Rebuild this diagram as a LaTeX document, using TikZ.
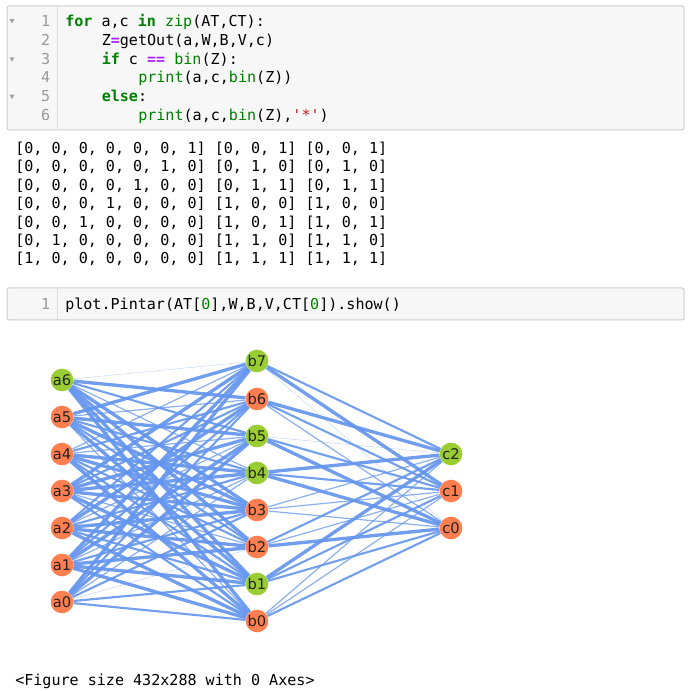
\documentclass[tikz,border=0pt]{standalone}
\usepackage{fontspec}
\newfontfamily\mono{DejaVu Sans Mono}
\newfontfamily\lab{DejaVu Sans}
\usetikzlibrary{backgrounds}
\definecolor{cellbg}{HTML}{F7F7F7}
\definecolor{cellborder}{HTML}{CFCFCF}
\definecolor{gutline}{HTML}{DDDDDD}
\definecolor{lnum}{HTML}{999999}
\definecolor{kwc}{HTML}{008000}
\definecolor{opc}{HTML}{AA22FF}
\definecolor{stc}{HTML}{BA2121}
\definecolor{edgec}{HTML}{6495ED}
\definecolor{nodeg}{HTML}{9ACD32}
\definecolor{nodeo}{HTML}{FF7F50}
\definecolor{labc}{HTML}{222222}
\newcommand{\kw}[1]{{\bfseries\color{kwc}#1}}
\newcommand{\bi}[1]{{\color{kwc}#1}}
\newcommand{\opr}[1]{{\bfseries\color{opc}#1}}
\newcommand{\str}[1]{{\color{stc}#1}}
\tikzset{
  cellbox/.style={fill=cellbg, draw=cellborder, line width=0.75pt, rounded corners=1.5pt},
  gut/.style={draw=gutline, line width=0.75pt},
  codetxt/.style={anchor=base west, inner sep=0pt, font=\mono\fontsize{11.3}{14}\selectfont, text=black},
  lnumtxt/.style={anchor=base east, inner sep=0pt, font=\mono\fontsize{11.3}{14}\selectfont, text=lnum},
  fold/.style={fill=lnum!90},
  gn/.style={circle, fill=nodeg, minimum size=17pt, inner sep=0pt, font=\lab\fontsize{11}{12}\selectfont, text=labc},
  on/.style={circle, fill=nodeo, minimum size=17pt, inner sep=0pt, font=\lab\fontsize{11}{12}\selectfont, text=labc},
  e1/.style={draw=edgec, line width=0.5pt, opacity=0.3},
  e2/.style={draw=edgec, line width=0.9pt, opacity=0.75},
  e3/.style={draw=edgec, line width=1.6pt, opacity=0.9},
  e4/.style={draw=edgec, line width=2.5pt, opacity=0.92},
}
\begin{document}
\begin{tikzpicture}[x=0.75pt, y=-0.75pt]
\useasboundingbox (0,0) rectangle (692,691);
% ---- code cell 1
\draw[cellbox] (7,6) rectangle (684,130);
\draw[gut] (57,6.5) -- (57,129.5);
\foreach \n/\y in {1/26.5,2/45.3,3/64.1,4/82.9,5/101.7,6/120.5}
  \node[lnumtxt] (ln\n) at (50.5,\y) {\n};
\foreach \y in {21,59.3,96.7}
  \fill[fold] (9.5,\y-2) -- (14.5,\y-2) -- (12,\y+2.5) -- cycle;
\node[codetxt] (c1) at (65,26.5) {\kw{for} a,c \kw{in} \bi{zip}(AT,CT):};
\node[codetxt] (c2) at (101.5,45.3) {Z\opr{=}getOut(a,W,B,V,c)};
\node[codetxt] (c3) at (101.5,64.1) {\kw{if} c \opr{==} \bi{bin}(Z):};
\node[codetxt] (c4) at (138,82.9) {\bi{print}(a,c,\bi{bin}(Z))};
\node[codetxt] (c5) at (101.5,101.7) {\kw{else}:};
\node[codetxt] (c6) at (138,120.5) {\bi{print}(a,c,\bi{bin}(Z),\str{'*'})};
% ---- output
\node[codetxt] (o1) at (15,153.5) {[0, 0, 0, 0, 0, 0, 1] [0, 0, 1] [0, 0, 1]};
\node[codetxt] (o2) at (15,171.9) {[0, 0, 0, 0, 0, 1, 0] [0, 1, 0] [0, 1, 0]};
\node[codetxt] (o3) at (15,190.3) {[0, 0, 0, 0, 1, 0, 0] [0, 1, 1] [0, 1, 1]};
\node[codetxt] (o4) at (15,208.7) {[0, 0, 0, 1, 0, 0, 0] [1, 0, 0] [1, 0, 0]};
\node[codetxt] (o5) at (15,227.1) {[0, 0, 1, 0, 0, 0, 0] [1, 0, 1] [1, 0, 1]};
\node[codetxt] (o6) at (15,245.5) {[0, 1, 0, 0, 0, 0, 0] [1, 1, 0] [1, 1, 0]};
\node[codetxt] (o7) at (15,263.9) {[1, 0, 0, 0, 0, 0, 0] [1, 1, 1] [1, 1, 1]};
% ---- code cell 2
\draw[cellbox] (7,288) rectangle (684,320);
\draw[gut] (57,288.5) -- (57,319.5);
\node[lnumtxt] (ln21) at (50.5,310) {1};
\node[codetxt] (c21) at (65,310) {plot.Pintar(AT[\bi{0}],W,B,V,CT[\bi{0}]).show()};
% ---- graph nodes
\foreach \i/\y/\s in {6/380/gn,5/417/on,4/454/on,3/491/on,2/528/on,1/565/on,0/602/on}
  \node[\s] (a\i) at (62,\y) {a\i};
\foreach \i/\y/\s in {7/361/gn,6/399/on,5/436/gn,4/473/gn,3/510/on,2/547/on,1/584/gn,0/621/on}
  \node[\s] (b\i) at (257,\y) {b\i};
\foreach \i/\y/\s in {2/454/gn,1/491/on,0/528/on}
  \node[\s] (c\i) at (451,\y) {c\i};
% ---- graph edges
\begin{pgfonlayer}{background}
\foreach \i/\j/\w in {
  6/7/1,6/6/4,6/5/3,6/4/2,6/3/4,6/2/4,6/1/4,6/0/4,
  5/7/4,5/6/2,5/5/4,5/4/3,5/3/4,5/2/3,5/1/4,5/0/2,
  4/7/2,4/6/3,4/5/2,4/4/4,4/3/4,4/2/3,4/1/3,4/0/4,
  3/7/4,3/6/3,3/5/4,3/4/4,3/3/4,3/2/2,3/1/4,3/0/3,
  2/7/3,2/6/4,2/5/2,2/4/3,2/3/4,2/2/4,2/1/3,2/0/4,
  1/7/4,1/6/3,1/5/4,1/4/2,1/3/3,1/2/4,1/1/4,1/0/4,
  0/7/4,0/6/3,0/5/4,0/4/2,0/3/3,0/2/1,0/1/3,0/0/3}
  \draw[e\w] (a\i) -- (b\j);
\foreach \i/\j/\w in {
  7/2/3,7/1/4,7/0/1,
  6/2/4,6/1/3,6/0/2,
  5/2/1,5/1/3,5/0/4,
  4/2/4,4/1/3,4/0/4,
  3/2/2,3/1/2,3/0/2,
  2/2/3,2/1/2,2/0/4,
  1/2/4,1/1/3,1/0/3,
  0/2/2,0/1/2,0/0/3}
  \draw[e\w] (b\i) -- (c\j);
\end{pgfonlayer}
% ---- footer
\node[codetxt] (fig) at (15,685.5) {<Figure size 432x288 with 0 Axes>};
\end{tikzpicture}
\end{document}
